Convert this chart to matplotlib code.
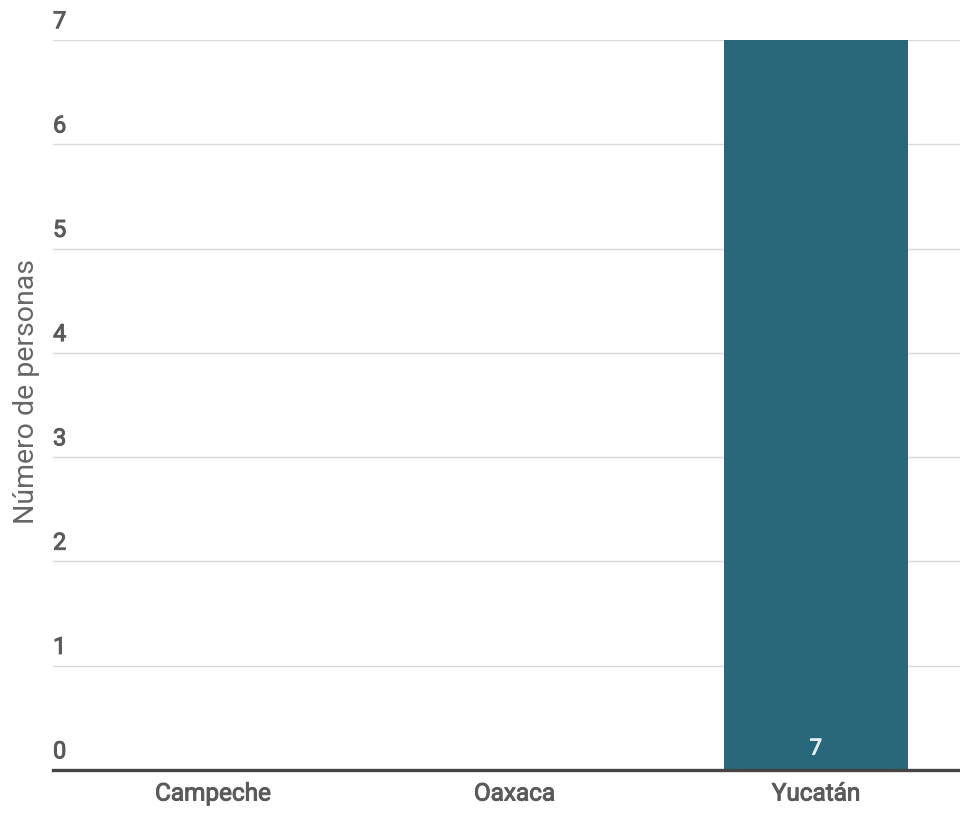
import matplotlib
matplotlib.use('Agg')
import matplotlib.pyplot as plt
import matplotlib.patheffects as pe

plt.rcParams['font.family'] = ['Roboto', 'DejaVu Sans']

# datos
estados = ['Campeche', 'Oaxaca', 'Yucatán']
personas = [0, 0, 7]
yticks = [0, 1, 2, 3, 4, 5, 6, 7]

BAR = '#28687A'
GRID = '#DADADA'
TXT = '#5A5A5A'

def medio(color):
    # Roboto Medium no está instalada: engrosar la regular con un trazo fino
    return [pe.withStroke(linewidth=0.7, foreground=color)]

fig = plt.figure(figsize=(9.6, 8.17), dpi=100)
ax = fig.add_axes([53/960, 47/817, 1 - 53/960, (770 - 40)/817])

x = list(range(len(estados)))
bars = ax.bar(x, personas, width=0.61, color=BAR, zorder=2)
for xi, v in zip(x, personas):
    if v > 0:
        ax.text(xi, 0.1, str(v), ha='center', va='bottom', fontsize=16,
                color='#E3EFF2', zorder=3, path_effects=medio('#E3EFF2'))

ax.set_xlim(-0.53, 2.478)
ax.set_ylim(0, 7)

for s in ax.spines.values():
    s.set_visible(False)
ax.axhline(0, color='#444444', lw=2.4, zorder=3, clip_on=False)
for t in yticks[1:]:
    ax.axhline(t, color=GRID, lw=1, zorder=1)

ax.set_yticks([])
ax.set_xticks(x)
ax.set_xticklabels(estados, fontsize=17.5, color=TXT)
for lab in ax.get_xticklabels():
    lab.set_path_effects(medio(TXT))
ax.tick_params(axis='x', length=0, pad=9)

for t in yticks:
    ax.text(0, t + 0.065, str(t), transform=ax.get_yaxis_transform(),
            ha='left', va='bottom', fontsize=17, color=TXT,
            path_effects=medio(TXT))

fig.text(27/960, 1 - 392/817, 'Número de personas', rotation=90,
         ha='center', va='center', fontsize=20.5, color='#666666')

fig.savefig('out.png', dpi=100, facecolor='white')
